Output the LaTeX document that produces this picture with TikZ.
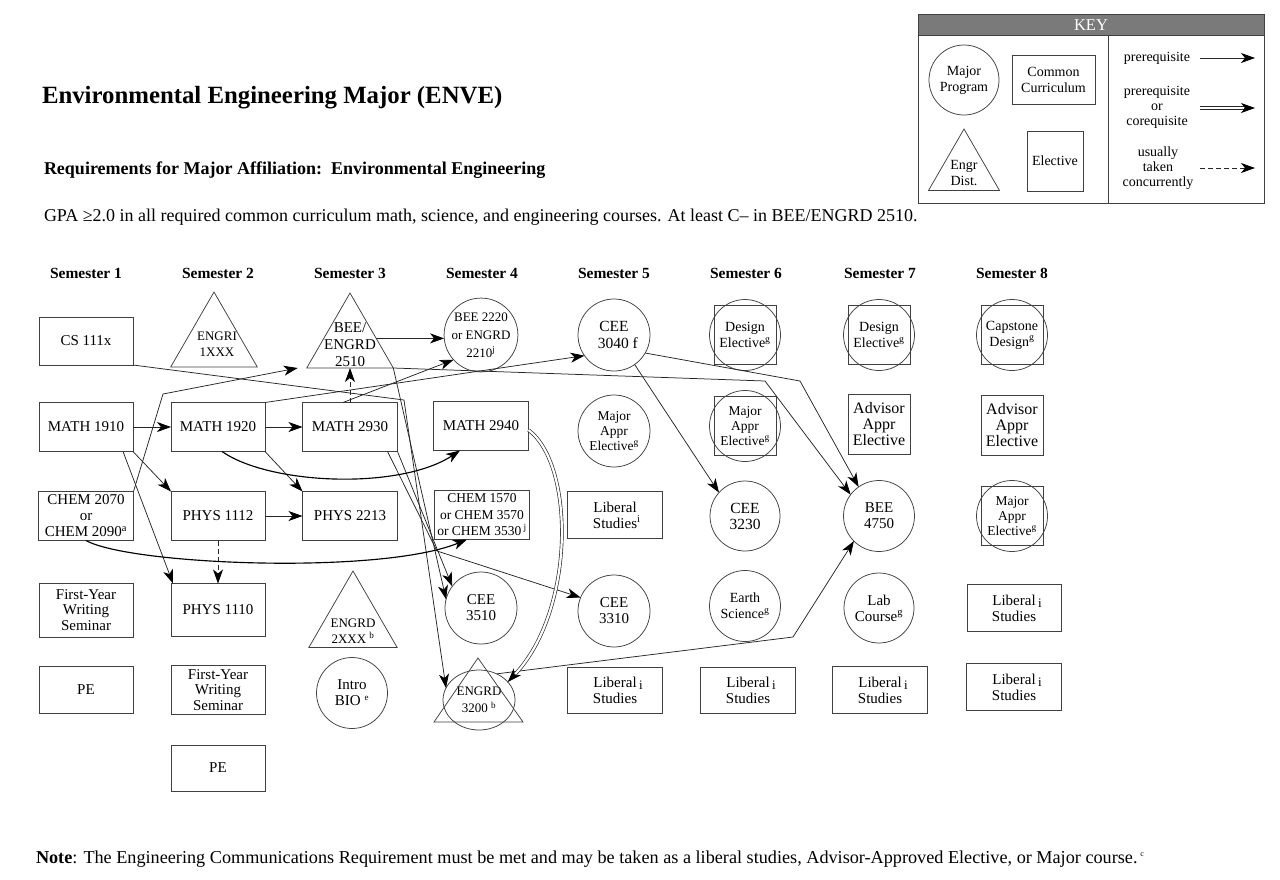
\documentclass[tikz,border=0pt]{standalone}
\usepackage{fontspec}
\setmainfont{Liberation Serif}
\usetikzlibrary{arrows.meta,shapes.geometric,calc}
\definecolor{keygray}{RGB}{122,122,122}
\newcommand{\fsz}[2]{\fontsize{#1}{#2}\selectfont}
\newcommand{\libA}{Liberal\rlap{\,\raisebox{-2pt}{\fsz{13}{13}i}}\\Studies}
\newcommand{\libB}{Liberal\\Studies\rlap{\textsuperscript{i}}}
\begin{document}
\begin{tikzpicture}[x=1pt,y=-1pt,
  every node/.style={inner sep=0pt, outer sep=0pt, align=center},
  ln/.style={draw=black!75, line width=0.75pt},
  txt/.style={font=\fsz{15}{16}},
  bx/.style={ln, rectangle, minimum width=94pt, minimum height=49pt, txt},
  sq/.style={ln, rectangle, minimum width=62pt, minimum height=60pt, font=\fsz{16}{16}},
  ci/.style={ln, circle, minimum size=72pt, txt},
  tri/.style={ln, regular polygon, regular polygon sides=3, minimum size=100pt},
  arr/.style={draw=black!85, line width=0.75pt, -{Stealth[length=14pt,width=10pt,inset=4pt,color=black]}},
  thk/.style={line width=1.15pt, draw=black},
  dbl/.style={draw=black!85, line width=0.65pt, double=white, double distance=2.2pt},
  dsh/.style={dash pattern=on 5pt off 3pt},
  sem/.style={anchor=base, font=\bfseries\fsz{15.5}{16}},
]
\useasboundingbox (0,0) rectangle (1280,879);
\fill[white] (0,0) rectangle (1280,879);

% ---------- headings ----------
\node[anchor=base west, font=\bfseries\fsz{24.8}{25}] (title) at (42,103) {Environmental Engineering Major (ENVE)};
\node[anchor=base west, font=\bfseries\fsz{18}{18}] (subt) at (44,174) {Requirements for Major Affiliation:\ \ Environmental Engineering};
\node[anchor=base west, font=\fsz{18}{18}] (gpa) at (44,221) {GPA ≥2.0 in all required common curriculum math, science, and engineering courses. At least C– in BEE/ENGRD 2510.};
\node[anchor=base west, font=\fsz{18.2}{18}] (note) at (36,863) {\textbf{Note}: The Engineering Communications Requirement must be met and may be taken as a liberal studies, Advisor-Approved Elective, or Major course.\,\textsuperscript{\fsz{8}{8}c}};

\node[sem] (s1) at (86,278) {Semester 1};
\node[sem] (s2) at (218,278) {Semester 2};
\node[sem] (s3) at (350,278) {Semester 3};
\node[sem] (s4) at (482,278) {Semester 4};
\node[sem] (s5) at (614,278) {Semester 5};
\node[sem] (s6) at (746,278) {Semester 6};
\node[sem] (s7) at (880,278) {Semester 7};
\node[sem] (s8) at (1012,278) {Semester 8};

% ---------- key ----------
\draw[ln, fill=keygray] (918,14) rectangle (1264,35);
\draw[ln] (918,35) rectangle (1264,203);
\draw[ln] (1108,35) -- (1108,203);
\node[font=\fsz{16.5}{16}, text=white] (keyt) at (1091,25.5) {KEY};
\node[ci, minimum size=70pt, font=\fsz{14}{16}] (kmaj) at (964,80) {Major\\Program};
\node[ln, rectangle, minimum width=83pt, minimum height=49pt, font=\fsz{14}{16}] (kcom) at (1053.5,79.5) {Common\\Curriculum};
\node[tri, minimum size=82pt] (ktri) at (964,170) {};
\node[font=\fsz{14}{16}] (ktrit) at (964,173) {Engr\\Dist.};
\node[ln, rectangle, minimum width=56pt, minimum height=60pt, font=\fsz{14}{16}] (kel) at (1055,161) {Elective};
\node[font=\fsz{14}{15}] (kp) at (1157,58) {prerequisite};
\node[font=\fsz{14}{15}] (kpc) at (1157,107) {prerequisite\\or\\corequisite};
\node[font=\fsz{14}{15}] (kuc) at (1158,168) {usually\\taken\\concurrently};
\coordinate (ka1) at (1200,58);  \coordinate (ka2) at (1255,58);
\coordinate (kb1) at (1200,108); \coordinate (kb2) at (1255,108);
\coordinate (kc1) at (1200,168); \coordinate (kc2) at (1255,168);
\draw[arr] (ka1) -- (ka2);
\draw[arr] (kb1) -- (kb2);
\draw[dbl, shorten >=11pt] (kb1) -- (kb2);
\draw[arr, dsh] (kc1) -- (kc2);

% ---------- semester 1 ----------
\node[bx, minimum height=48pt] (cs) at (86,341) {CS 111x};
\node[bx] (m1910) at (86,427) {MATH 1910};
\node[bx, minimum width=95pt] (chem2070) at (86,516) {CHEM 2070\\or\\CHEM 2090\textsuperscript{a}};
\node[bx, minimum height=54pt, font=\fsz{15}{15.5}] (fyws1) at (86,610) {First-Year\\Writing\\Seminar};
\node[bx, minimum height=47pt] (pe1) at (86,690) {PE};

% ---------- semester 2 ----------
\node[tri] (engri) at (214,342) {};
\node[font=\fsz{13}{16}] (engrit) at (217,344) {ENGRI\\1XXX};
\node[bx] (m1920) at (218,427) {MATH 1920};
\node[bx] (p1112) at (218,516) {PHYS 1112};
\node[bx, minimum height=53pt] (p1110) at (218,610) {PHYS 1110};
\node[bx, font=\fsz{15}{15.5}] (fyws2) at (218,690) {First-Year\\Writing\\Seminar};
\node[bx, minimum height=46pt] (pe2) at (218,768) {PE};

% ---------- semester 3 ----------
\node[tri] (bee2510) at (350,343) {};
\node[font=\fsz{15}{17}] (bee2510t) at (350,345) {BEE/\\ENGRD\\2510};
\node[bx, minimum width=95pt] (m2930) at (350,427) {MATH 2930};
\node[bx, minimum width=95pt] (p2213) at (350,516) {PHYS 2213};
\node[tri, minimum size=102pt] (engrd2) at (353,622) {};
\node[font=\fsz{13}{16}] (engrd2t) at (353,631) {ENGRD\\2XXX \textsuperscript{b}};
\node[ci, minimum size=71pt] (bio) at (352,693) {Intro\\BIO \textsuperscript{\fsz{9}{9}e}};

% ---------- semester 4 ----------
\node[ci, font=\fsz{13}{18}] (bee2220) at (481,335) {BEE 2220\\or ENGRD\\2210\textsuperscript{j}};
\node[bx, minimum width=95pt] (m2940) at (481,426) {MATH 2940};
\node[bx, minimum width=95pt, font=\fsz{13.5}{16.5}] (chem1570) at (482,515) {CHEM 1570\\or CHEM 3570\\or CHEM 3530\,\textsuperscript{j}};
\node[ci] (cee3510) at (481,608) {CEE\\3510};
\node[ln, ellipse, minimum width=72pt, minimum height=60pt, font=\fsz{13}{17}] (e3200) at (479,700) {ENGRD\\3200 \textsuperscript{b}};
\draw[ln] ($(e3200.center)+(-1,-42)$) -- ($(e3200.center)+(44,22)$) -- ($(e3200.center)+(-45,22)$) -- cycle;

% ---------- semester 5 ----------
\node[ci, font=\fsz{15.5}{17}] (cee3040) at (614,335) {CEE\\\ \ 3040 f};
\node[ci, font=\fsz{13.5}{15}] (maj5) at (614,431) {Major\\Appr\\Elective\textsuperscript{g}};
\node[bx, minimum width=95pt, minimum height=47pt] (lib5a) at (615,515) {\libB};
\node[ci] (cee3310) at (614,611) {CEE\\3310};
\node[bx, minimum width=95pt, minimum height=46pt] (lib5b) at (615,690) {\libA};

% ---------- semester 6 ----------
\node[ci, minimum size=71pt, font=\fsz{14}{16}] (des6) at (745,335) {Design\\Elective\textsuperscript{g}};
\node[ci, minimum size=71pt, font=\fsz{13.5}{15}] (maj6) at (745,426) {Major\\Appr\\Elective\textsuperscript{g}};
\node[ci, minimum size=70pt, font=\fsz{15.5}{16}] (cee3230) at (745,516) {CEE\\3230};
\node[ci, minimum size=71pt, font=\fsz{14}{16}] (earth) at (745,606) {Earth\\Science\textsuperscript{g}};
\node[bx, minimum width=95pt, minimum height=46pt] (lib6) at (748,690) {\libA};

% ---------- semester 7 ----------
\node[ci, minimum size=71pt, font=\fsz{14}{16}] (des7) at (879,335) {Design\\Elective\textsuperscript{g}};
\node[sq] (adv7) at (879,424) {Advisor\\Appr\\Elective};
\node[ci, minimum size=71pt] (bee4750) at (879,516) {BEE\\4750};
\node[ci, minimum size=70pt] (lab) at (879,608) {Lab\\Course\textsuperscript{g}};
\node[bx, minimum width=95pt, minimum height=47pt] (lib7) at (880,690) {\libA};

% ---------- semester 8 ----------
\node[ci, minimum size=71pt, font=\fsz{14}{16}] (cap) at (1012,335) {Capstone\\Design\textsuperscript{g}};
\node[sq] (adv8) at (1012,425) {Advisor\\Appr\\Elective};
\node[ci, minimum size=71pt, font=\fsz{13.5}{15}] (maj8) at (1012,516) {Major\\Appr\\Elective\textsuperscript{g}};
\node[bx, minimum height=47pt] (lib8a) at (1014,608) {\libA};
\node[bx, minimum width=95pt, minimum height=47pt] (lib8b) at (1014,687) {\libA};

% squares behind circles
\foreach \n in {des6,maj6,des7,cap,maj8}
  \draw[ln] ($(\n.center)+(-31,-29.5)$) rectangle ++(62,59);

% ---------- connectors ----------
\draw[arr] (m1910) -- (m1920);
\draw[arr] (m1920) -- (m2930);
\draw[arr] (p1112) -- (p2213);
\draw[arr, dsh] (p1112) -- (p1110);
\draw[arr, dsh] (m2930) -- (bee2510.south);
\draw[arr] (m1910.south east) -- (p1112.north west);
\draw[arr] ([xshift=-10pt]m1910.south east) -- ([xshift=2pt]p1110.north west);
\draw[arr] (m1920.south east) -- (p2213.north west);
\draw[arr] (chem2070.north east) -- (163,394) -- ([xshift=-9pt]bee2510.corner 2);
\draw[arr] (cs.south east) -- (404,400) -- (e3200.160);
\draw[arr] (m1920.north east) -- (cee3040.215);
\draw[arr] ([xshift=-7pt]m2930.north) -- (bee2220.222);
\draw[arr] (bee2510.10) -- (bee2510.10 -| bee2220.west);
\draw[arr] (bee2510.corner 3) -- (765,381) -- (bee4750.143);
\draw[arr] (cee3040.-30) -- (800,381) -- (bee4750.125);
\draw[arr] (cee3040.-55) -- (cee3230.138);
\draw[arr] (m2930.south east) -- (cee3510.143);
\draw[arr] (bee2510.corner 3) -- (cee3510.166);
\draw[arr] ([xshift=-10pt]m2930.south east) -- (437,551) -- (cee3310.158);
\draw[arr] (e3200.56) -- (793,637) -- (bee4750.225);
\draw[arr, thk] ([xshift=4pt]m1920.south) .. controls (270,485) and (400,490) .. ([xshift=-21pt]m2940.south);
\draw[arr, thk] (chem2070.south) .. controls (130,565) and (380,575) .. ([xshift=-15pt]chem1570.south);
\draw[arr] ([yshift=-4pt]m2940.east) .. controls (575,465) and (575,610) .. (e3200.32);
\draw[dbl, shorten >=11pt] ([yshift=-4pt]m2940.east) .. controls (575,465) and (575,610) .. (e3200.32);
\end{tikzpicture}
\end{document}
